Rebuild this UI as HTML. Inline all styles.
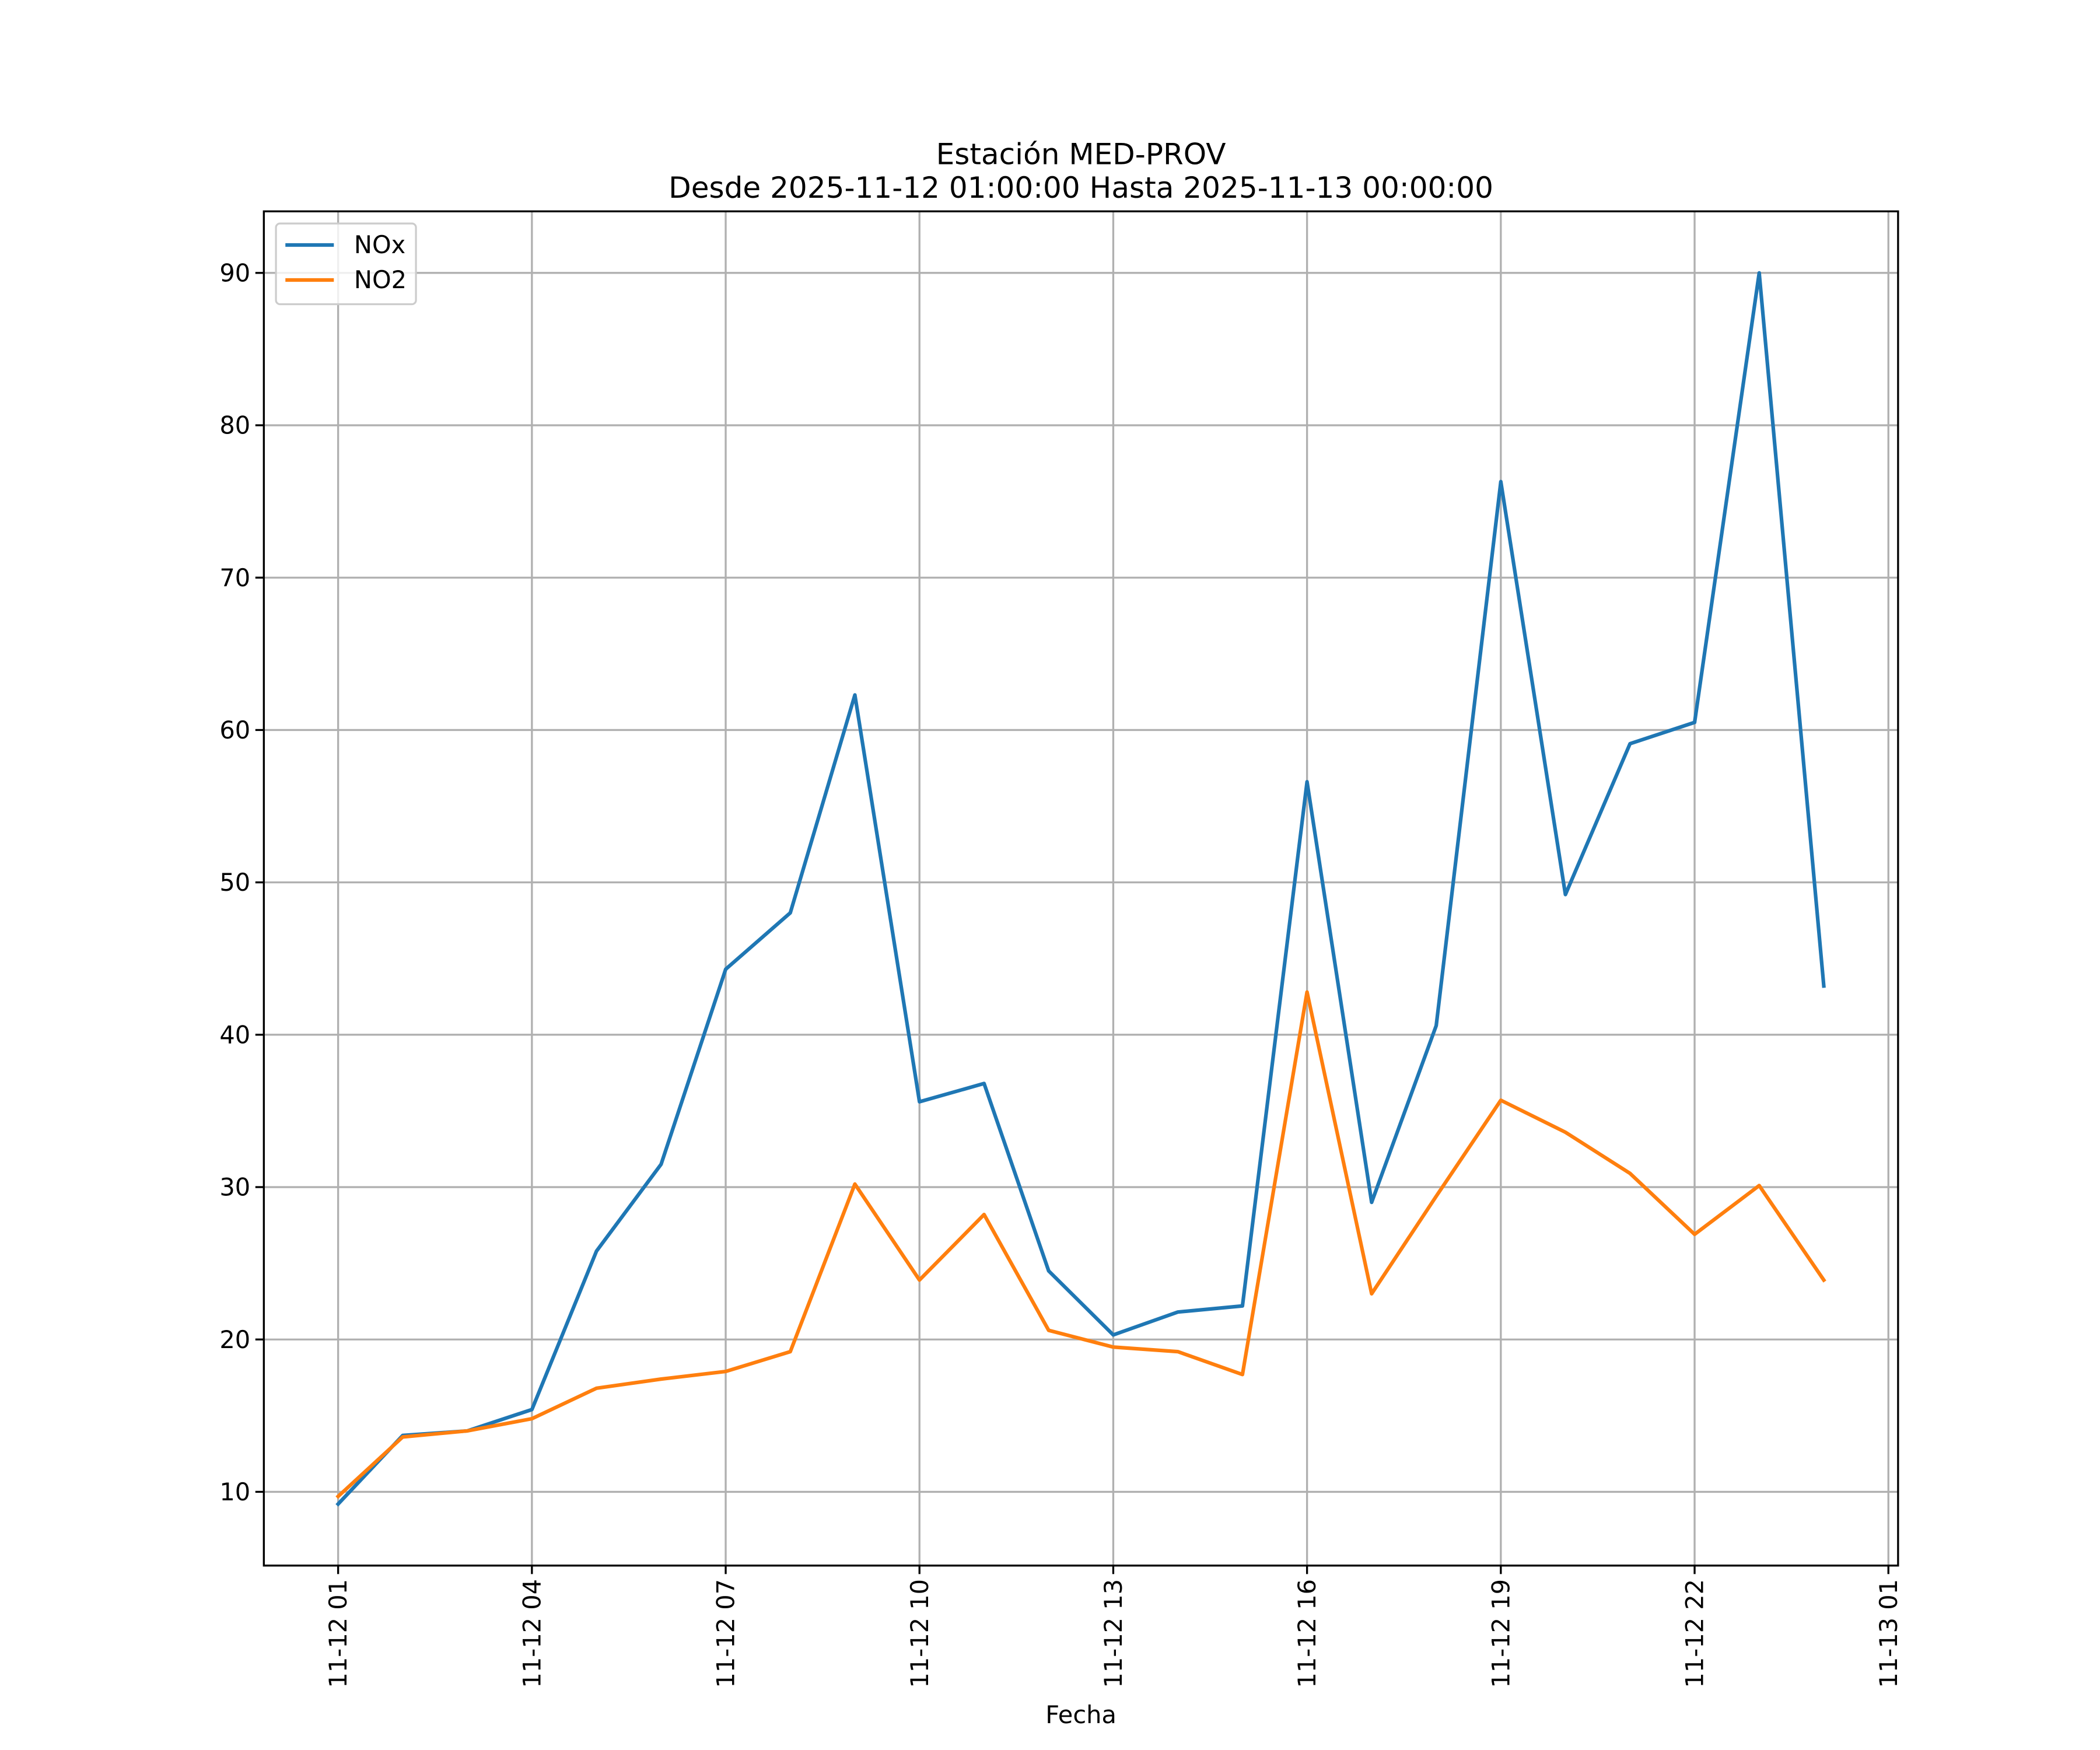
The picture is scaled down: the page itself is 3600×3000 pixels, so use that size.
<!DOCTYPE html>
<html><head><meta charset="utf-8">
<style>
html,body{margin:0;padding:0;background:#fff;}
svg{display:block;}
text{font-family:"DejaVu Sans","Liberation Sans",sans-serif;fill:#000;}
</style></head>
<body>
<svg id="chart" xmlns="http://www.w3.org/2000/svg" width="3600" height="3000" viewBox="0 0 1560 1300">
<rect width="1560" height="1300" fill="#fff"/>
<text x="803" y="122" font-size="21.7" text-anchor="middle">Estación MED-PROV</text>
<text x="803" y="147" font-size="21.7" text-anchor="middle">Desde 2025-11-12 01:00:00 Hasta 2025-11-13 00:00:00</text>
<g id="grid"></g>
<g id="series"></g>
<rect x="196" y="157" width="1214" height="1006" fill="none" stroke="#000" stroke-width="1.44"/>
<g id="ticks"></g>
<text x="803" y="1280" font-size="18" text-anchor="middle">Fecha</text>
<g>
<rect x="205" y="166" width="104" height="60" rx="3" fill="#fff" fill-opacity="0.8" stroke="#ccc" stroke-width="1.4"/>
<line x1="212" y1="182" x2="248" y2="182" stroke="#1f77b4" stroke-width="2.7"/>
<text x="263" y="188" font-size="18">NOx</text>
<line x1="212" y1="208" x2="248" y2="208" stroke="#ff7f0e" stroke-width="2.7"/>
<text x="263" y="214" font-size="18">NO2</text>
</g>
</svg>
<script>
const hours = [1,2,3,4,5,6,7,8,9,10,11,12,13,14,15,16,17,18,19,20,21,22,23,24];
const noxValues = [9.2,13.7,14.0,15.4,25.8,31.5,44.3,48.0,62.3,35.6,36.8,24.5,20.3,21.8,22.2,56.6,29.0,40.6,76.3,49.2,59.1,60.5,90.0,43.2];
const no2Values = [9.7,13.6,14.0,14.8,16.8,17.4,17.9,19.2,30.2,23.9,28.2,20.6,19.5,19.2,17.7,42.8,23.0,29.4,35.7,33.6,30.9,26.9,30.1,23.9];
const xTickHours = [1,4,7,10,13,16,19,22,25];
const xTickLabels = ["11-12 01","11-12 04","11-12 07","11-12 10","11-12 13","11-12 16","11-12 19","11-12 22","11-13 01"];
const yTicks = [10,20,30,40,50,60,70,80,90];

const NS="http://www.w3.org/2000/svg";
const L=196,R=1410,T=157,B=1163;
const xmin=-0.15,xmax=25.15;
const allV=noxValues.concat(no2Values);
const vmin=Math.min(...allV),vmax=Math.max(...allV),pad=(vmax-vmin)*0.05;
const ymin=vmin-pad,ymax=vmax+pad;
const x=h=>L+(h-xmin)/(xmax-xmin)*(R-L);
const y=v=>B-(v-ymin)/(ymax-ymin)*(B-T);
function mk(tag,attrs,parent){const e=document.createElementNS(NS,tag);for(const k in attrs)e.setAttribute(k,attrs[k]);parent.appendChild(e);return e;}
const grid=document.getElementById('grid'),ticks=document.getElementById('ticks'),series=document.getElementById('series');
xTickHours.forEach((h,i)=>{
  const X=x(h);
  const g=mk('line',{x1:X,x2:X,y1:T,y2:B,stroke:'#b0b0b0','stroke-width':1.44},grid);
  
  
  mk('line',{x1:X,x2:X,y1:B,y2:B+6.3,stroke:'#000','stroke-width':1.44},ticks);
  const t=mk('text',{transform:`translate(${X},${B+10}) rotate(-90)`,'text-anchor':'end',dy:'0.35em','font-size':18},ticks);
  t.textContent=xTickLabels[i];
  
  
});
yTicks.forEach(v=>{
  const Y=y(v);
  const g=mk('line',{x1:L,x2:R,y1:Y,y2:Y,stroke:'#b0b0b0','stroke-width':1.44},grid);
  
  
  mk('line',{x1:L-6.3,x2:L,y1:Y,y2:Y,stroke:'#000','stroke-width':1.44},ticks);
  const t=mk('text',{x:L-10,y:Y,dy:'0.35em','text-anchor':'end','font-size':18},ticks);
  t.textContent=v;
  
  
});
function line(vals,color,name){
  const p=mk('polyline',{points:vals.map((v,i)=>x(hours[i])+','+y(v)).join(' '),fill:'none',stroke:color,'stroke-width':2.7,'stroke-linejoin':'round','stroke-linecap':'square'},series);
  
  
}
line(noxValues,'#1f77b4','nox-line');
line(no2Values,'#ff7f0e','no2-line');
</script>
</body></html>
